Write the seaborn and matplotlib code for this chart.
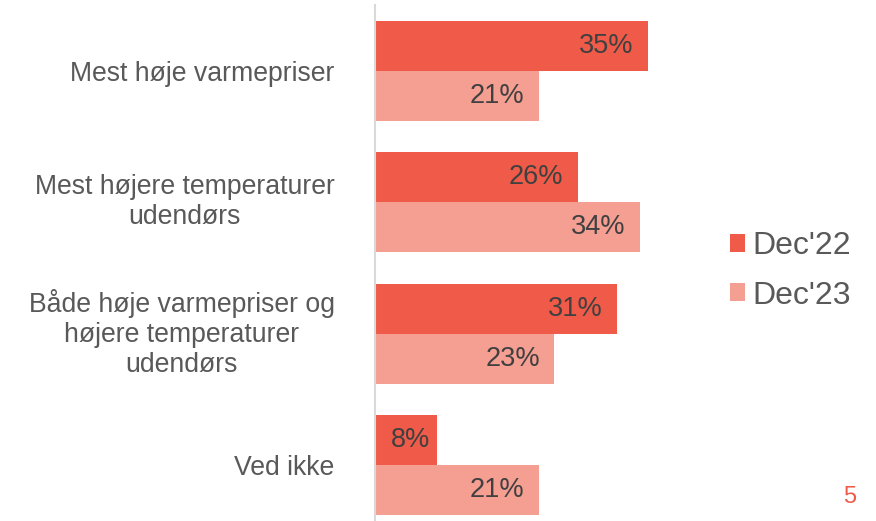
import matplotlib
matplotlib.use("Agg")
import matplotlib.pyplot as plt
import seaborn as sns
import pandas as pd
from matplotlib.patches import Patch

categories = [
    "Mest høje varmepriser",
    "Mest højere temperaturer\nudendørs",
    "Både høje varmepriser og\nhøjere temperaturer\nudendørs",
    "Ved ikke",
]
series = ["Dec'22", "Dec'23"]
dec22 = [35, 26, 31, 8]
dec23 = [21, 34, 23, 21]
colors = ["#EF5B48", "#F59E92"]

df = pd.DataFrame({
    "cat": categories * 2,
    "serie": [series[0]] * 4 + [series[1]] * 4,
    "val": dec22 + dec23,
})

sns.set_theme(style="white")
plt.rcParams["font.family"] = ["Liberation Sans", "DejaVu Sans"]

W, H = 876, 521
fig = plt.figure(figsize=(W / 100, H / 100), dpi=100)
ax = fig.add_axes([375 / W, 0, 312 / W, 516 / H])

sns.barplot(data=df, y="cat", x="val", hue="serie", order=categories,
            hue_order=series, palette=colors, orient="h", width=0.763,
            saturation=1, ax=ax, legend=False, linewidth=0)

ax.set_xlim(0, 40)
ax.set_ylim(3.427, -0.504)
ax.set_xlabel("")
ax.set_ylabel("")
ax.set_xticks([])
for s in ["top", "right", "bottom"]:
    ax.spines[s].set_visible(False)
ax.spines["left"].set_color("#D9D9D9")
ax.spines["left"].set_linewidth(1.5)
ax.tick_params(axis="y", length=0, pad=29, labelsize=19.2, labelcolor="#595959")
for lbl in ax.get_yticklabels():
    lbl.set_multialignment("center")
    lbl.set_linespacing(1.2)
    if "\n" in lbl.get_text():
        lbl.set_verticalalignment("center")
    else:
        lbl.set_verticalalignment("center_baseline")

for cont in ax.containers:
    for bar in cont:
        v = bar.get_width()
        pad = -10.5 if v > 10 else -5
        ax.annotate(f"{v:.0f}%", xy=(v, bar.get_y() + bar.get_height() / 2),
                    xytext=(pad, 0), textcoords="offset points",
                    ha="right", va="center", fontsize=19.5, color="#404040")

handles = [Patch(facecolor=c, edgecolor="none") for c in colors]
fig.legend(handles, series, loc="center left", bbox_to_anchor=(730 / W, 1 - 271 / H),
           frameon=False, fontsize=23, handlelength=0.47, handleheight=0.47,
           handletextpad=0.22, labelspacing=0.6, borderpad=0, borderaxespad=0,
           labelcolor="#595959")

fig.text(850 / W, 1 - 497 / H, "5", color="#EF5B48", fontsize=17,
         ha="center", va="center")

fig.savefig("out.png", dpi=100)
